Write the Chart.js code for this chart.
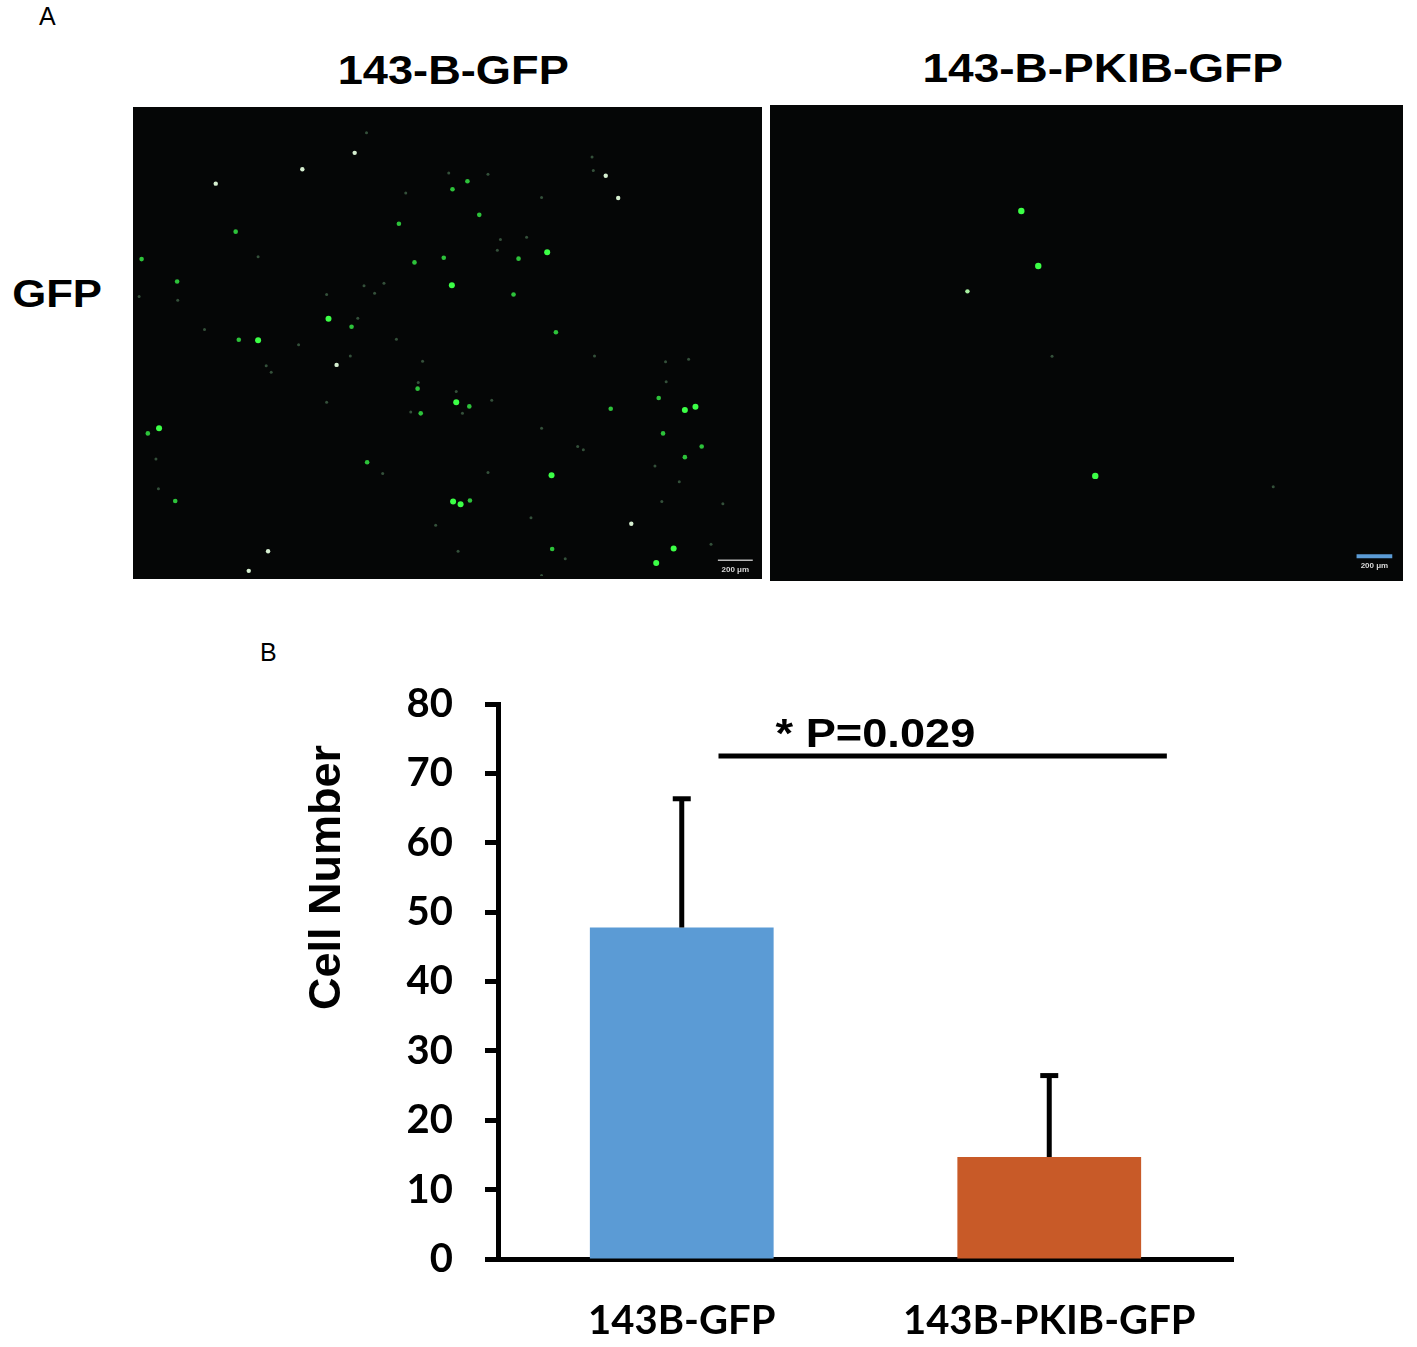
<!DOCTYPE html>
<html>
<head>
<meta charset="utf-8">
<script src="https://cdn.jsdelivr.net/npm/chart.js@4.4.1/dist/chart.umd.min.js"></script>
<style>
  html, body { margin: 0; padding: 0; background: #fff; }
  body { width: 1417px; height: 1347px; position: relative; overflow: hidden; }
  canvas { position: absolute; }
  .lbl { position: absolute; white-space: nowrap; line-height: 1; color: #000;
         font-family: "Liberation Sans", Arial, sans-serif; }
  .panel { font-size: 25px; }
  .head { font-weight: bold; transform-origin: center top; }
</style>
</head>
<body>
<div class="lbl panel" style="left:39px; top:4px;">A</div>
<div class="lbl panel" style="left:260px; top:640px;">B</div>
<div class="lbl head" id="t1" style="font-size:40px; top:50px;">143-B-GFP</div>
<div class="lbl head" id="t2" style="font-size:40px; top:48px;">143-B-PKIB-GFP</div>
<div class="lbl head" id="t3" style="font-size:38px; top:275px;">GFP</div>

<canvas id="imgLeft" width="629" height="472" style="left:133px; top:107px; width:629px; height:472px;"></canvas>
<canvas id="imgRight" width="633" height="476" style="left:770px; top:105px; width:633px; height:476px;"></canvas>
<canvas id="barChart" width="1417" height="727" style="left:0; top:620px; width:1417px; height:727px;"></canvas>

<script>
// Panel B: Zellzahlen
const groups = ['143B-GFP', '143B-PKIB-GFP'];
const cellMeans = [47.8, 14.7];
const cellErrors = [18.9, 12.1];
const barColors = ['#5B9BD5', '#C85A28'];
const yMax = 80;
const yStep = 10;
const sigLevel = 72.5;
const sigFrom = 0.1;   // Kategorie-Index
const sigTo = 1.32;
const sigLabel = '* P=0.029';
const yTitle = 'Cell Number';

// Panel A: Zellpositionen in % der Bildbreite / -hoehe (von oben)
const gfpBright = [[66.0,30.5],[50.7,37.6],[30.9,44.8],[19.6,49.4],[51.4,62.7],[88.1,64.4],[89.8,63.7],
  [3.7,68.3],[66.7,78.4],[50.9,84.0],[52.1,84.6],[86.3,94.1],[83.5,97.2]];
const gfpGreen = [[16.0,26.1],[0.9,32.0],[6.6,36.8],[53.2,15.3],[50.8,17.0],[55.1,22.5],[42.2,24.4],
  [61.4,31.9],[49.4,31.7],[44.7,32.7],[60.6,39.6],[34.6,46.5],[16.5,49.3],[67.4,47.7],[45.2,59.8],
  [53.5,63.6],[45.7,65.1],[83.9,61.8],[76.2,64.1],[1.9,69.4],[84.6,69.4],[90.8,72.2],[88.1,74.5],
  [37.1,75.6],[6.3,83.9],[53.6,83.8],[66.8,94.2]];
const gfpPale = [[35.1,9.2],[26.7,12.7],[12.8,15.8],[75.4,14.1],[77.4,18.9],[32.2,54.7],[79.5,88.8],
  [21.2,94.7],[18.1,98.9]];
const gfpFaint = [[6.7,40.8],[0.5,40.0],[19.6,31.5],[37.0,4.9],[73.2,10.1],[73.4,13.0],[65.1,18.8],
  [50.2,13.5],[56.5,13.8],[43.3,17.8],[58.5,27.8],[62.7,27.3],[58.0,30.1],[36.6,37.7],[39.8,37.2],
  [38.3,39.3],[30.6,39.6],[35.6,44.7],[11.0,47.1],[26.1,50.4],[41.8,49.2],[34.4,52.8],[20.9,54.9],
  [21.7,56.3],[46.0,53.9],[73.6,52.8],[85.0,54.0],[88.7,53.5],[85.1,58.3],[45.3,58.5],[51.4,60.4],
  [57.1,62.3],[30.6,62.7],[44.1,64.8],[52.4,65.1],[65.1,68.3],[3.2,74.9],[70.9,72.2],[71.8,72.9],
  [39.6,78.0],[56.5,77.8],[83.3,76.4],[87.2,79.8],[3.6,81.3],[84.4,84.0],[94.2,84.5],[63.4,87.5],
  [48.1,89.1],[68.9,96.3],[51.7,94.7],[92.3,93.2],[65.1,99.9]];

const pkibBright = [[39.6,21.9],[42.3,33.6],[51.4,78.3]];
const pkibPale = [[31.0,39.0]];
const pkibFaint = [[44.5,52.8],[79.8,80.6]];

const scaleBarLeft = [[93.4,96.6],[99.0,96.6]];
const scaleBarRight = [[93.1,95.4],[98.8,95.4]];
const scaleBarText = '200 μm';

Chart.defaults.animation = false;
Chart.defaults.font.family = 'Lato, sans-serif';

// Ueberschriften horizontal strecken (wie im Original)
function placeHead(id, cx, sx) {
    const el = document.getElementById(id);
    el.style.left = (cx - el.offsetWidth / 2) + 'px';
    el.style.transform = 'scaleX(' + sx + ')';
}
placeHead('t1', 453, 1.13);
placeHead('t2', 1102, 1.15);
placeHead('t3', 57, 1.15);

const toXY = arr => arr.map(p => ({ x: p[0], y: p[1] }));

// schwarzer Hintergrund + Massstabstext
const darkField = {
    id: 'darkField',
    beforeDraw(chart) {
        const { ctx } = chart;
        ctx.save();
        ctx.fillStyle = '#050606';
        ctx.fillRect(0, 0, chart.width, chart.height);
        ctx.restore();
    },
    afterDraw(chart) {
        const opts = chart.options.plugins.darkField;
        if (!opts || !opts.bar) return;
        const xs = chart.scales.x, ys = chart.scales.y;
        const cx = xs.getPixelForValue((opts.bar[0][0] + opts.bar[1][0]) / 2);
        const cy = ys.getPixelForValue(opts.bar[0][1]) + 10;
        const ctx = chart.ctx;
        ctx.save();
        ctx.fillStyle = '#d8d8d8';
        ctx.font = 'bold 8px "Liberation Sans", Arial';
        ctx.textAlign = 'center';
        ctx.textBaseline = 'middle';
        ctx.fillText(scaleBarText, cx, cy);
        ctx.restore();
    }
};

function makeField(canvasId, sets, bar, barColor, barWidth) {
    const datasets = sets.map(s => ({
        type: 'scatter',
        data: toXY(s.pts),
        backgroundColor: s.color,
        borderWidth: 0,
        pointRadius: s.r,
        pointHoverRadius: s.r
    }));
    datasets.push({
        type: 'line',
        data: toXY(bar),
        borderColor: barColor,
        borderWidth: barWidth,
        pointRadius: 0,
        fill: false
    });
    return new Chart(document.getElementById(canvasId), {
        type: 'scatter',
        data: { datasets: datasets },
        options: {
            responsive: false,
            layout: { padding: 0 },
            plugins: { legend: { display: false }, tooltip: { enabled: false }, darkField: { bar: bar } },
            scales: {
                x: { type: 'linear', min: 0, max: 100, display: false },
                y: { type: 'linear', min: 0, max: 100, reverse: true, display: false }
            }
        },
        plugins: [darkField]
    });
}

makeField('imgLeft', [
    { pts: gfpFaint, color: '#34503a', r: 1.5 },
    { pts: gfpPale, color: '#d6efd0', r: 2.2 },
    { pts: gfpGreen, color: '#2dc23a', r: 2.3 },
    { pts: gfpBright, color: '#3cff46', r: 3 }
], scaleBarLeft, '#b8b8b8', 1.5);

makeField('imgRight', [
    { pts: pkibFaint, color: '#34503a', r: 1.5 },
    { pts: pkibPale, color: '#a8f0a0', r: 2.2 },
    { pts: pkibBright, color: '#3cff46', r: 3.2 }
], scaleBarRight, '#5B9BD5', 4);

// Fehlerbalken (nur nach oben)
const errorBars = {
    id: 'errorBars',
    afterDatasetsDraw(chart) {
        const { ctx } = chart;
        const ys = chart.scales.y;
        const meta = chart.getDatasetMeta(0);
        ctx.save();
        ctx.strokeStyle = '#000';
        ctx.lineWidth = 5;
        meta.data.forEach((el, i) => {
            const top = ys.getPixelForValue(cellMeans[i] + cellErrors[i]);
            ctx.beginPath();
            ctx.moveTo(el.x, el.y);
            ctx.lineTo(el.x, top + 2);
            ctx.stroke();
            ctx.beginPath();
            ctx.moveTo(el.x - 9, top + 2.5);
            ctx.lineTo(el.x + 9, top + 2.5);
            ctx.stroke();
        });
        ctx.restore();
    }
};

// Signifikanzlinie + Achsentitel
const annotations = {
    id: 'annotations',
    afterDraw(chart) {
        const { ctx } = chart;
        const xs = chart.scales.x, ys = chart.scales.y;
        const y = ys.getPixelForValue(sigLevel);
        const x1 = xs.getPixelForValue(sigFrom);
        const x2 = xs.getPixelForValue(sigTo);
        ctx.save();
        ctx.strokeStyle = '#000';
        ctx.lineWidth = 5;
        ctx.beginPath();
        ctx.moveTo(x1, y);
        ctx.lineTo(x2, y);
        ctx.stroke();

        ctx.fillStyle = '#000';
        ctx.font = 'bold 40px "Liberation Sans", Arial';
        ctx.textBaseline = 'alphabetic';
        ctx.textAlign = 'left';
        ctx.translate(x1 + 57, y - 9);
        ctx.scale(1.13, 1);
        ctx.fillText(sigLabel, 0, 0);
        ctx.restore();

        ctx.save();
        ctx.fillStyle = '#000';
        ctx.font = 'bold 45px "Liberation Sans", Arial';
        ctx.textAlign = 'center';
        ctx.textBaseline = 'alphabetic';
        ctx.translate(xs.left - 158, (ys.top + ys.bottom) / 2 - 104);
        ctx.rotate(-Math.PI / 2);
        ctx.fillText(yTitle, 0, 0);
        ctx.restore();
    }
};

new Chart(document.getElementById('barChart'), {
    type: 'bar',
    data: {
        labels: groups,
        datasets: [{
            data: cellMeans,
            backgroundColor: barColors,
            borderWidth: 0,
            categoryPercentage: 1.0,
            barPercentage: 0.5
        }]
    },
    options: {
        responsive: false,
        layout: { padding: { top: 84, right: 184, bottom: 0, left: 0 } },
        plugins: { legend: { display: false }, tooltip: { enabled: false } },
        scales: {
            x: {
                grid: { display: false, drawTicks: false },
                border: { display: true, color: '#000', width: 5 },
                ticks: { color: '#000', padding: 38, maxRotation: 0,
                         font: { family: 'Lato', weight: 'bold', size: 40 } },
                afterFit(scale) { scale.height = 88; }
            },
            y: {
                min: 0,
                max: yMax,
                grid: { drawOnChartArea: false, drawTicks: true, tickLength: 13,
                        tickWidth: 5, tickColor: '#000', color: '#000' },
                border: { display: true, color: '#000', width: 5 },
                ticks: { stepSize: yStep, color: '#000', padding: 32,
                         font: { family: 'Lato', weight: 'bold', size: 40 } },
                afterFit(scale) { scale.width = 498; }
            }
        }
    },
    plugins: [errorBars, annotations]
});
</script>
</body>
</html>
